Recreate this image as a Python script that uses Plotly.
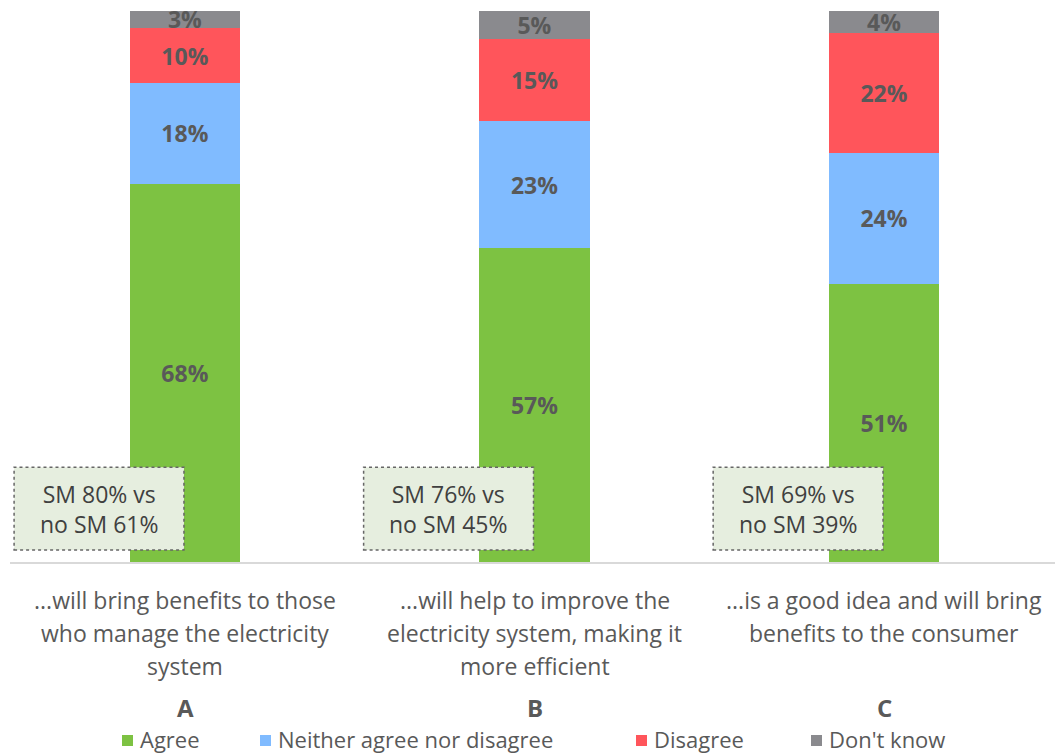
import plotly.graph_objects as go

categories = ["A", "B", "C"]
statements = [
    ["...will bring benefits to those", "who manage the electricity", "system"],
    ["...will help to improve the", "electricity system, making it", "more efficient"],
    ["...is a good idea and will bring", "benefits to the consumer"],
]
agree = [68, 57, 51]
neither = [18, 23, 24]
disagree = [10, 15, 22]
dont_know = [3, 5, 4]
sm_notes = ["SM 80% vs<br>no SM 61%", "SM 76% vs<br>no SM 45%", "SM 69% vs<br>no SM 39%"]

series = [
    ("Agree", agree, "#7dc242"),
    ("Neither agree nor disagree", neither, "#80bbff"),
    ("Disagree", disagree, "#ff555b"),
    ("Don't know", dont_know, "#8a8a8e"),
]

FONT = "Open Sans"
TXT = "#595959"
PLOT_L, PLOT_W, PLOT_B, PLOT_H = 10, 1045, 562, 551


def px_x(p):
    return (p - PLOT_L) / PLOT_W


def px_y(p):
    return (PLOT_B - p) / PLOT_H


fig = go.Figure()
xs = list(range(len(categories)))
for name, vals, col in series:
    fig.add_trace(go.Bar(
        x=xs, y=vals, name=name, marker_color=col, marker_line_width=0,
        text=[f"{v}%" for v in vals], textposition="inside", insidetextanchor="middle",
        textfont=dict(family=FONT, size=23, color=TXT, weight="bold"),
        constraintext="none", cliponaxis=False, width=0.315, showlegend=False,
    ))

annotations = []
shapes = []
for i, note in enumerate(sm_notes):
    shapes.append(dict(type="rect", xref="x", yref="paper", x0=i - 0.489, x1=i - 0.003,
                       y0=0.022, y1=0.172, fillcolor="#e6eedf",
                       line=dict(color="#666666", width=1.5, dash="dot"), layer="above"))
    annotations.append(dict(x=i - 0.246, y=0.097, xref="x", yref="paper", text=note,
                            showarrow=False, font=dict(family=FONT, size=23, color="#404040"),
                            xanchor="center", yanchor="middle", align="center"))
    for j, line in enumerate(statements[i]):
        annotations.append(dict(x=i, y=0, xref="x", yref="paper", text=line, showarrow=False,
                                xanchor="center", yanchor="middle", yshift=-38 - 33 * j,
                                font=dict(family=FONT, size=23, color=TXT)))
    annotations.append(dict(x=i, y=0, xref="x", yref="paper", text=f"<b>{categories[i]}</b>",
                            showarrow=False, xanchor="center", yanchor="middle", yshift=-145,
                            font=dict(family=FONT, size=24, color=TXT)))

# custom legend
legend_sq_px = [122, 260, 636, 811]
for (name, _, col), sx in zip(series, legend_sq_px):
    shapes.append(dict(type="rect", xref="paper", yref="paper", x0=px_x(sx), x1=px_x(sx + 11),
                       y0=px_y(746), y1=px_y(735), fillcolor=col, line=dict(width=0)))
    annotations.append(dict(x=px_x(sx + 16), y=px_y(739), xref="paper", yref="paper", text=name,
                            showarrow=False, xanchor="left", yanchor="middle",
                            font=dict(family=FONT, size=22, color=TXT)))

fig.update_layout(
    barmode="stack", barnorm="percent",
    width=1055, height=756,
    margin=dict(l=10, r=0, t=11, b=194),
    paper_bgcolor="white", plot_bgcolor="white",
    font=dict(family=FONT, color=TXT),
    xaxis=dict(range=[-0.5007, 2.489], showticklabels=False, showgrid=False, zeroline=False,
               showline=True, linecolor="#d9d9d9", linewidth=2, fixedrange=True),
    yaxis=dict(range=[0, 100], visible=False, fixedrange=True),
    shapes=shapes, annotations=annotations, showlegend=False,
)

fig.write_html("out.html")
